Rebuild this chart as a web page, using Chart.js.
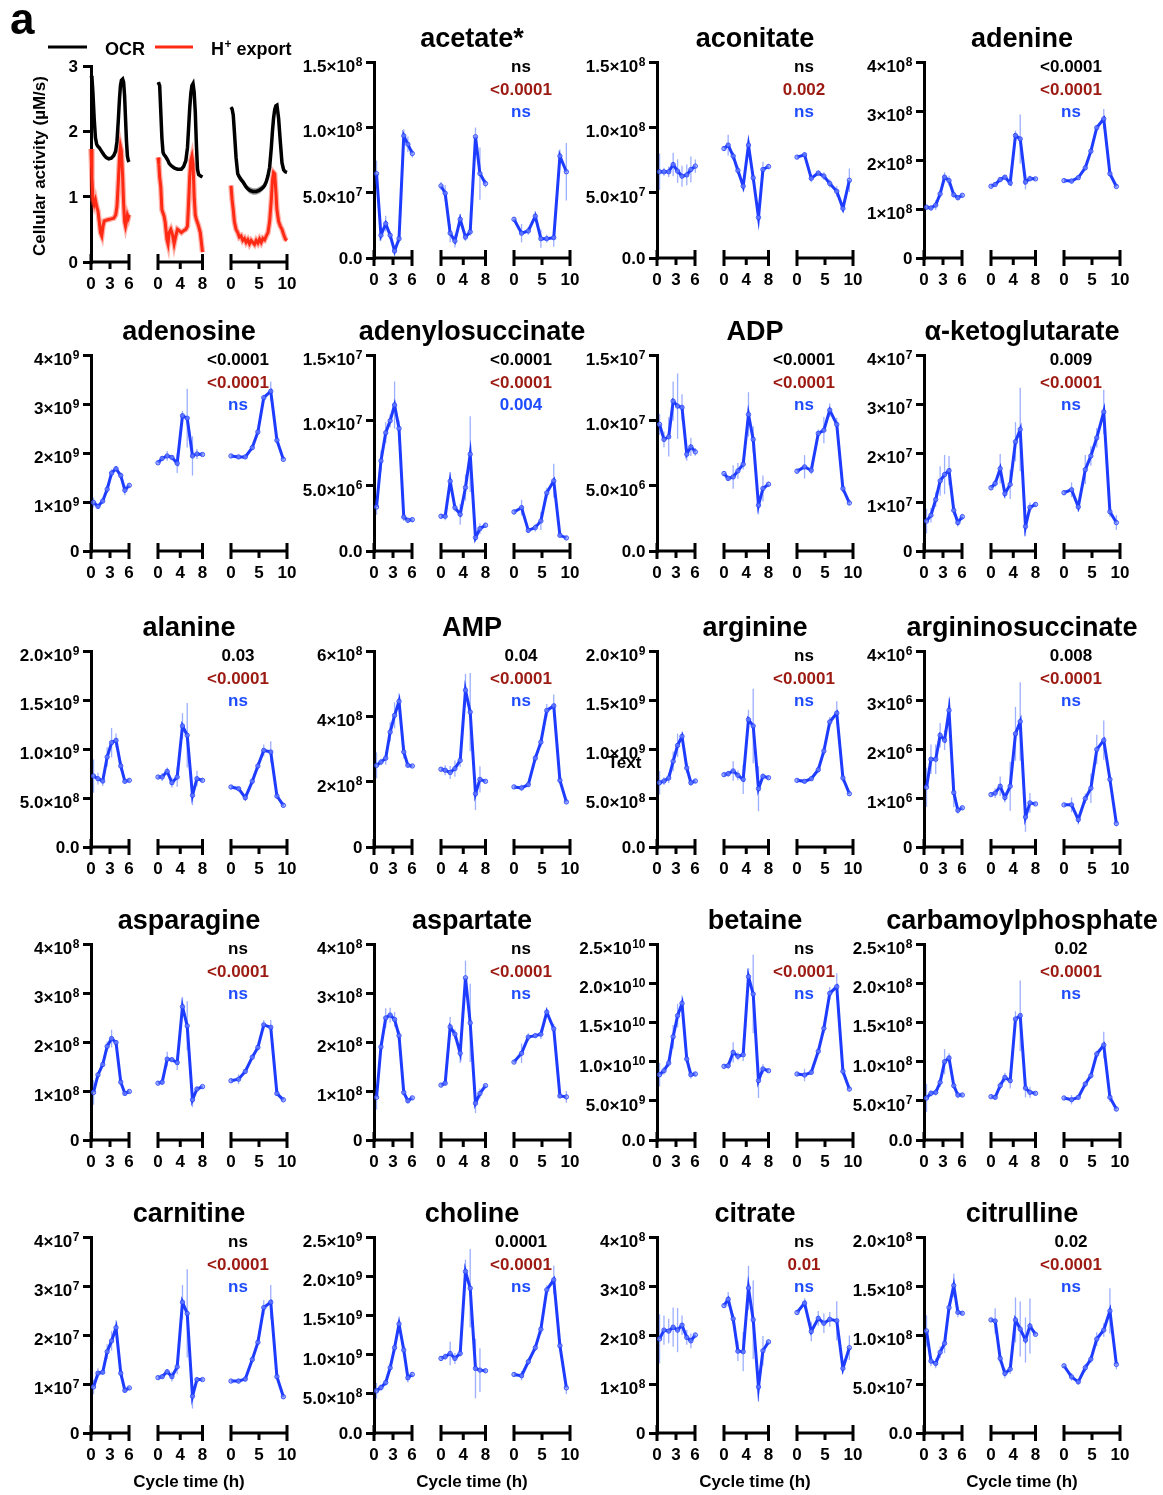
<!DOCTYPE html>
<html><head><meta charset="utf-8">
<script src="https://cdn.jsdelivr.net/npm/chart.js@4.4.1/dist/chart.umd.min.js"></script>
<style>
html,body{margin:0;padding:0;background:#fff}
#page{position:relative;width:1163px;height:1495px;overflow:hidden;background:#fff}
#page canvas{position:absolute}
</style></head><body><div id="page"></div>
<script>
// ---------- sampling times (h) of each cycle segment ----------
const T1 = [0.4, 1.1, 1.85, 2.55, 3.25, 3.95, 4.7, 5.35, 6.05];
const T2 = [0, 0.75, 1.65, 2.5, 3.45, 4.4, 5.25, 6.2, 7.0, 8.0];
const T3 = [0, 1.35, 2.55, 3.8, 4.8, 5.85, 7.1, 8.2, 9.35];
const XT1 = ['0','3','6'], XT2 = ['0','4','8'], XT3 = ['0','5','10'];

// ---------- y tick labels ----------
const YT_OCR = ['0','1','2','3'];
const YT_15e8 = ['0.0','5.0×10^7','1.0×10^8','1.5×10^8'];
const YT_4e8 = ['0','1×10^8','2×10^8','3×10^8','4×10^8'];
const YT_4e9 = ['0','1×10^9','2×10^9','3×10^9','4×10^9'];
const YT_15e7 = ['0.0','5.0×10^6','1.0×10^7','1.5×10^7'];
const YT_4e7 = ['0','1×10^7','2×10^7','3×10^7','4×10^7'];
const YT_2e9 = ['0.0','5.0×10^8','1.0×10^9','1.5×10^9','2.0×10^9'];
const YT_6e8 = ['0','2×10^8','4×10^8','6×10^8'];
const YT_4e6 = ['0','1×10^6','2×10^6','3×10^6','4×10^6'];
const YT_25e10 = ['0.0','5.0×10^9','1.0×10^10','1.5×10^10','2.0×10^10','2.5×10^10'];
const YT_25e8 = ['0.0','5.0×10^7','1.0×10^8','1.5×10^8','2.0×10^8','2.5×10^8'];
const YT_25e9 = ['0.0','5.0×10^8','1.0×10^9','1.5×10^9','2.0×10^9','2.5×10^9'];
const YT_2e8 = ['0.0','5.0×10^7','1.0×10^8','1.5×10^8','2.0×10^8'];

// ---------- OCR / H+ export (µM/s) ----------
const OCR_T1 = [0,0.15,0.3,0.5,0.7,0.9,1.1,1.3,1.5,1.7,1.9,2.1,2.4,2.8,3.2,3.6,3.9,4.1,4.3,4.5,4.65,4.8,5.0,5.15,5.3,5.45,5.6,5.75,5.9,6.0];
const OCR_K1 = [2.85,2.82,2.6,2.2,1.9,1.8,1.77,1.75,1.72,1.69,1.66,1.63,1.6,1.58,1.59,1.63,1.7,1.85,2.15,2.5,2.7,2.78,2.8,2.75,2.55,2.2,1.85,1.62,1.55,1.53];
const OCR_H1 = [1.73,1.3,0.95,0.88,0.95,0.85,0.78,0.62,0.45,0.4,0.55,0.63,0.64,0.65,0.66,0.67,0.72,0.85,1.2,1.6,1.77,1.7,1.3,0.9,0.62,0.55,0.62,0.72,0.68,0.72];
const OCR_T2 = [0,0.15,0.3,0.5,0.7,0.9,1.1,1.3,1.6,1.8,2.0,2.3,2.6,2.9,3.2,3.5,3.8,4.2,4.6,5.0,5.3,5.5,5.7,5.9,6.1,6.3,6.5,6.7,6.9,7.1,7.3,7.6,7.8,8.0];
const OCR_K2 = [2.75,2.73,2.7,2.3,1.9,1.68,1.64,1.62,1.58,1.55,1.51,1.48,1.46,1.44,1.43,1.42,1.42,1.42,1.46,1.55,1.75,2.05,2.35,2.58,2.7,2.73,2.6,2.3,1.8,1.42,1.34,1.32,1.31,1.3];
const OCR_H2 = [1.6,1.5,1.3,1.15,0.8,0.75,0.7,0.6,0.35,0.28,0.45,0.5,0.42,0.28,0.4,0.5,0.48,0.45,0.48,0.5,0.55,0.9,1.3,1.55,1.62,1.5,1.0,0.72,0.65,0.6,0.55,0.45,0.3,0.15];
const OCR_T3 = [0,0.2,0.4,0.6,0.9,1.2,1.5,1.8,2.1,2.4,2.7,3.0,3.3,3.6,3.9,4.2,4.5,4.8,5.1,5.4,5.7,6.0,6.3,6.6,6.9,7.2,7.4,7.6,7.8,8.0,8.2,8.5,8.8,9.1,9.4,9.7,10];
const OCR_K3 = [2.37,2.34,2.25,2.0,1.6,1.35,1.3,1.26,1.23,1.19,1.15,1.12,1.1,1.09,1.08,1.08,1.08,1.09,1.1,1.12,1.14,1.17,1.23,1.32,1.45,1.75,2.0,2.2,2.33,2.39,2.4,2.2,1.85,1.52,1.41,1.38,1.37];
const OCR_B3 = [0.02,0.02,0.02,0.03,0.03,0.045,0.045,0.045,0.045,0.045,0.045,0.045,0.05,0.05,0.05,0.05,0.05,0.05,0.05,0.05,0.05,0.045,0.045,0.045,0.04,0.03,0.03,0.03,0.03,0.03,0.03,0.03,0.03,0.03,0.02,0.02,0.02];
const OCR_H3 = [1.17,0.95,0.8,0.62,0.5,0.45,0.38,0.4,0.33,0.36,0.3,0.34,0.28,0.33,0.3,0.27,0.33,0.29,0.35,0.3,0.36,0.34,0.4,0.45,0.62,0.95,1.25,1.37,1.35,1.1,0.8,0.62,0.55,0.5,0.42,0.35,0.33];

// ---------- metabolites: values per segment and error bars ----------
const acetate_v = [[0.646,0.174,0.263,0.174,0.054,0.148,0.935,0.87,0.80],[0.552,0.496,0.19,0.13,0.296,0.16,0.20,0.928,0.646,0.57],[0.296,0.19,0.207,0.32,0.148,0.148,0.156,0.78,0.66]];
const acetate_e = [[0.1,0.04,0.06,0.03,0.04,0.03,0.05,0.06,0.03],[0.03,0.06,0.07,0.05,0.04,0.03,0.03,0.07,0.2,0.03],[0.02,0.07,0.03,0.04,0.07,0.03,0.07,0.05,0.22]];
const aconitate_v = [[0.66,0.66,0.66,0.715,0.665,0.626,0.636,0.677,0.703],[0.838,0.864,0.78,0.67,0.55,0.864,0.613,0.31,0.677,0.70],[0.772,0.79,0.61,0.65,0.627,0.57,0.51,0.38,0.595]];
const aconitate_e = [[0.14,0.03,0.04,0.09,0.09,0.08,0.08,0.1,0.05],[0.02,0.08,0.03,0.03,0.04,0.04,0.02,0.04,0.06,0.02],[0.01,0.02,0.03,0.02,0.03,0.03,0.04,0.03,0.09]];
const adenine_v = [[1.036,1.02,1.08,1.31,1.65,1.58,1.29,1.23,1.28],[1.465,1.5,1.6,1.65,1.53,2.5,2.43,1.55,1.62,1.615],[1.58,1.57,1.64,1.84,2.18,2.66,2.84,1.72,1.46]];
const adenine_e = [[0.05,0.05,0.1,0.08,0.1,0.1,0.05,0.05,0.03],[0.02,0.03,0.05,0.04,0.04,0.1,0.5,0.15,0.06,0.02],[0.02,0.05,0.03,0.04,0.04,0.05,0.2,0.05,0.03]];
const adenosine_v = [[0.99,0.91,1.02,1.26,1.59,1.68,1.54,1.24,1.34],[1.80,1.89,1.94,1.91,1.79,2.76,2.71,1.94,1.98,1.97],[1.94,1.92,1.92,2.11,2.43,3.13,3.26,2.26,1.87]];
const adenosine_e = [[0.1,0.05,0.05,0.07,0.08,0.05,0.06,0.1,0.04],[0.03,0.05,0.1,0.04,0.2,0.1,0.6,0.4,0.1,0.02],[0.03,0.04,0.04,0.05,0.05,0.06,0.2,0.05,0.05]];
const adenylosuccinate_v = [[3.37,6.9,9.05,9.97,11.17,9.38,2.6,2.35,2.4],[2.66,2.66,5.34,3.32,2.81,4.86,7.41,1.02,1.71,1.97],[2.99,3.32,1.58,1.79,2.3,4.45,5.37,1.2,1.0]];
const adenylosuccinate_e = [[0.6,0.8,0.8,0.5,1.8,0.6,0.3,0.2,0.2],[0.2,0.3,0.7,0.3,0.8,1.0,2.9,0.3,0.4,0.2],[0.2,0.6,0.2,0.3,0.7,0.4,1.3,0.1,0.1]];
const ADP_v = [[9.69,8.54,8.74,11.47,11.09,10.99,7.41,7.97,7.59],[5.93,5.55,5.67,6.13,6.64,10.45,8.54,3.5,4.78,5.11],[6.11,6.44,6.18,9.0,9.25,10.78,9.69,4.78,3.68]];
const ADP_e = [[0.8,0.6,1.5,1.5,2.5,1.0,0.5,0.7,0.3],[0.2,0.2,0.9,0.6,0.4,1.7,1.0,0.7,1.0,0.2],[0.2,0.9,0.3,0.3,1.0,0.5,0.5,0.3,0.2]];
const akg_v = [[0.61,0.73,1.05,1.43,1.56,1.64,0.83,0.58,0.70],[1.29,1.38,1.68,1.17,1.36,2.23,2.48,0.50,0.89,0.95],[1.19,1.25,0.90,1.66,1.94,2.31,2.84,0.80,0.58]];
const akg_e = [[0.25,0.15,0.15,0.3,0.4,0.3,0.1,0.08,0.06],[0.05,0.08,0.3,0.1,0.3,0.4,0.85,0.2,0.1,0.05],[0.05,0.15,0.1,0.3,0.2,0.2,0.45,0.1,0.15]];
const alanine_v = [[0.724,0.697,0.673,0.918,1.065,1.088,0.827,0.67,0.68],[0.714,0.714,0.772,0.656,0.714,1.235,1.14,0.527,0.697,0.68],[0.612,0.595,0.503,0.67,0.827,0.986,0.969,0.52,0.425]];
const alanine_e = [[0.17,0.06,0.05,0.1,0.15,0.07,0.05,0.02,0.02],[0.02,0.04,0.04,0.05,0.1,0.13,0.33,0.1,0.08,0.02],[0.02,0.02,0.03,0.03,0.04,0.06,0.11,0.03,0.02]];
const AMP_v = [[2.5,2.6,2.72,3.52,4.03,4.46,2.91,2.5,2.48],[2.38,2.35,2.28,2.40,2.65,4.8,4.13,1.63,2.07,2.01],[1.84,1.81,1.91,2.72,3.21,4.18,4.32,2.04,1.38]];
const AMP_e = [[0.4,0.1,0.2,0.3,0.4,0.25,0.2,0.05,0.03],[0.05,0.15,0.2,0.25,0.2,0.5,1.2,0.5,0.4,0.03],[0.03,0.1,0.05,0.1,0.15,0.2,0.35,0.05,0.05]];
const arginine_v = [[0.656,0.673,0.704,0.874,1.037,1.129,0.806,0.656,0.673],[0.738,0.748,0.776,0.731,0.690,1.30,1.235,0.595,0.721,0.707],[0.68,0.67,0.697,0.789,0.98,1.276,1.367,0.704,0.544]];
const arginine_e = [[0.12,0.04,0.05,0.1,0.12,0.05,0.05,0.03,0.02],[0.02,0.03,0.1,0.05,0.15,0.1,0.38,0.23,0.03,0.02],[0.02,0.02,0.02,0.03,0.04,0.05,0.12,0.04,0.02]];
const argsucc_v = [[1.22,1.79,1.79,2.28,2.18,2.79,1.11,0.75,0.80],[1.07,1.10,1.24,1.01,1.24,2.31,2.56,0.61,0.90,0.88],[0.86,0.86,0.56,0.99,1.20,1.99,2.18,1.38,0.48]];
const argsucc_e = [[0.4,0.3,0.3,0.25,0.2,0.25,0.3,0.07,0.03],[0.03,0.1,0.2,0.1,0.5,0.55,0.8,0.3,0.2,0.02],[0.02,0.15,0.1,0.1,0.3,0.3,0.4,0.1,0.06]];
const asparagine_v = [[0.97,1.33,1.54,1.91,2.07,1.99,1.18,0.95,0.99],[1.16,1.18,1.65,1.64,1.58,2.72,2.33,0.82,1.04,1.09],[1.21,1.24,1.40,1.69,1.89,2.35,2.30,0.95,0.82]];
const asparagine_e = [[0.25,0.05,0.05,0.1,0.18,0.05,0.04,0.03,0.02],[0.03,0.05,0.15,0.05,0.15,0.2,0.5,0.15,0.05,0.02],[0.02,0.1,0.05,0.05,0.07,0.1,0.15,0.05,0.03]];
const aspartate_v = [[0.87,1.90,2.49,2.55,2.46,2.13,0.97,0.80,0.86],[1.12,1.16,2.31,2.16,1.77,3.31,2.39,0.75,0.95,1.11],[1.59,1.77,2.10,2.13,2.16,2.61,2.27,0.90,0.88]];
const aspartate_e = [[0.25,0.1,0.2,0.15,0.15,0.1,0.05,0.05,0.03],[0.03,0.05,0.2,0.1,0.2,0.35,0.8,0.2,0.1,0.03],[0.02,0.2,0.08,0.05,0.1,0.1,0.1,0.05,0.12]];
const betaine_v = [[8.33,8.84,9.82,13.18,15.86,17.43,10.33,8.33,8.42],[9.40,9.48,11.18,10.67,10.88,20.83,18.62,7.57,9.06,8.84],[8.42,8.29,8.63,11.31,14.24,18.71,19.56,8.76,6.5]];
const betaine_e = [[1.5,0.5,0.5,1.5,1.5,1.0,0.5,0.5,0.3],[0.3,0.4,1.3,0.5,0.8,1.1,5.0,2.2,0.6,0.2],[0.2,0.8,0.3,0.4,0.6,0.8,1.7,0.5,0.3]];
const carbp_v = [[5.36,5.95,6.08,7.36,9.99,10.46,6.93,5.74,5.74],[5.53,5.44,6.93,7.99,7.57,15.43,15.86,6.63,6.08,5.95],[5.36,5.14,5.44,7.14,8.21,10.97,12.12,5.44,3.95]];
const carbp_e = [[1.8,0.4,0.4,0.6,1.6,0.6,0.4,0.4,0.2],[0.2,0.3,0.5,0.6,1.0,1.0,4.5,1.2,0.7,0.2],[0.2,0.6,0.3,0.3,0.4,0.4,1.7,0.6,0.3]];
const carnitine_v = [[0.94,1.22,1.24,1.66,1.88,2.15,1.22,0.87,0.92],[1.13,1.15,1.25,1.15,1.35,2.67,2.44,0.75,1.09,1.09],[1.06,1.06,1.10,1.50,1.85,2.56,2.67,1.15,0.74]];
const carnitine_e = [[0.15,0.1,0.05,0.15,0.2,0.15,0.05,0.04,0.02],[0.03,0.04,0.05,0.1,0.15,0.35,0.9,0.25,0.05,0.02],[0.02,0.05,0.05,0.05,0.05,0.15,0.35,0.05,0.04]];
const choline_v = [[5.38,5.80,6.44,8.32,10.88,13.91,10.58,7.04,7.47],[9.51,9.73,10.15,9.51,10.15,20.6,18.47,8.23,8.02,7.94],[7.47,7.30,9.09,10.88,13.23,18.26,19.54,11.13,5.76]];
const choline_e = [[1.0,0.4,0.4,0.5,0.6,0.5,0.5,0.6,0.3],[0.3,0.4,1.5,0.7,0.4,1.5,5.0,3.8,2.8,0.2],[0.2,0.6,0.4,0.4,0.6,0.6,1.8,0.5,0.8]];
const citrate_v = [[1.92,2.10,2.08,2.16,2.10,2.20,1.95,1.88,2.0],[2.60,2.73,2.33,1.67,1.66,2.96,2.31,0.94,1.68,1.86],[2.46,2.65,2.07,2.34,2.24,2.32,2.29,1.32,1.74]];
const citrate_e = [[0.5,0.3,0.25,0.4,0.45,0.2,0.15,0.15,0.05],[0.05,0.15,0.1,0.2,0.4,0.45,0.8,0.3,0.3,0.05],[0.05,0.1,0.2,0.15,0.2,0.15,0.4,0.1,0.25]];
const citrulline_v = [[10.41,7.34,7.10,8.23,9.15,12.8,15.05,12.32,12.22],[11.54,11.43,7.61,6.08,6.52,11.54,10.61,9.49,10.92,10.07],[6.86,5.73,5.22,6.66,7.54,9.59,10.51,12.46,7.0]];
const citrulline_e = [[1.6,0.5,0.5,0.6,1.0,0.5,1.2,0.5,0.2],[0.2,1.3,0.5,0.5,0.5,2.3,2.8,2.3,2.8,0.2],[0.2,0.4,0.3,0.4,0.4,0.7,0.7,2.3,0.5]];

// ---------- p-values (black / red / blue) ----------
const P_acetate = ['ns','<0.0001','ns'];
const P_aconitate = ['ns','0.002','ns'];
const P_adenine = ['<0.0001','<0.0001','ns'];
const P_adenosine = ['<0.0001','<0.0001','ns'];
const P_adenylosuccinate = ['<0.0001','<0.0001','0.004'];
const P_ADP = ['<0.0001','<0.0001','ns'];
const P_akg = ['0.009','<0.0001','ns'];
const P_alanine = ['0.03','<0.0001','ns'];
const P_AMP = ['0.04','<0.0001','ns'];
const P_arginine = ['ns','<0.0001','ns'];
const P_argsucc = ['0.008','<0.0001','ns'];
const P_asparagine = ['ns','<0.0001','ns'];
const P_aspartate = ['ns','<0.0001','ns'];
const P_betaine = ['ns','<0.0001','ns'];
const P_carbp = ['0.02','<0.0001','ns'];
const P_carnitine = ['ns','<0.0001','ns'];
const P_choline = ['0.0001','<0.0001','ns'];
const P_citrate = ['ns','0.01','ns'];
const P_citrulline = ['0.02','<0.0001','ns'];

// ---------- layout / style ----------
const FONT = '"Liberation Sans", Arial, Helvetica, sans-serif';
const BLUE = '#1e3cff', BLUE_TXT = '#1f4cff', DRED = '#9c1a12', RED = '#ff2a14';
const COLS = [91, 374, 657, 924];
const ROWS = [61.5, 355, 650.5, 943.5, 1237];
const SEG = [{start:0,width:38,max:6,labels:XT1},{start:67,width:44.5,max:8,labels:XT2},{start:140,width:56,max:10,labels:XT3}];
const TS = [T1, T2, T3];
const segX = (s, t) => SEG[s].start + t / SEG[s].max * SEG[s].width;

Chart.defaults.font.family = FONT;
Chart.defaults.color = '#000';

function richText(ctx, parts, x, y, size, align, weight) {
  const w8 = weight || 'bold';
  let w = 0;
  parts.forEach(p => { ctx.font = `${w8} ${p.sup ? 12 : size}px ${FONT}`; p.w = ctx.measureText(p.t).width + (p.sup ? 0.5 : 0); w += p.w; });
  let cx = align === 'right' ? x - w : (align === 'center' ? x - w / 2 : x);
  ctx.textAlign = 'left'; ctx.textBaseline = 'alphabetic';
  parts.forEach(p => { ctx.font = `${w8} ${p.sup ? 12 : size}px ${FONT}`; ctx.fillText(p.t, cx + (p.sup ? 0.5 : 0), p.sup ? y - 6.5 : y); cx += p.w; });
}
function yLabel(ctx, lab, xr, yc) {
  const k = lab.split('^');
  if (k.length > 1) richText(ctx, [{t:k[0]}, {t:k[1], sup:true}], xr, yc + 10, 17, 'right');
  else richText(ctx, [{t:k[0]}], xr, yc + 6, 17, 'right');
}

const errPlugin = {
  id: 'errbars',
  beforeDatasetsDraw(chart) {
    const ctx = chart.ctx, ys = chart.scales.y;
    chart.data.datasets.forEach((ds, di) => {
      if (!ds.errs) return;
      const meta = chart.getDatasetMeta(di);
      ctx.save(); ctx.strokeStyle = 'rgba(60,95,255,0.5)'; ctx.lineWidth = 1.3;
      meta.data.forEach((pt, i) => {
        const v = ds.data[i].y, e = ds.errs[i];
        ctx.beginPath(); ctx.moveTo(pt.x, ys.getPixelForValue(v - e)); ctx.lineTo(pt.x, ys.getPixelForValue(v + e)); ctx.stroke();
      });
      ctx.restore();
    });
  }
};

const decorPlugin = {
  id: 'decor',
  afterDraw(chart) {
    const o = chart.options.plugins.decor, ctx = chart.ctx, ca = chart.chartArea;
    const xs = chart.scales.x, ys = chart.scales.y;
    ctx.save();
    ctx.fillStyle = '#000'; ctx.strokeStyle = '#000'; ctx.lineWidth = 3; ctx.lineCap = 'butt';
    const y0 = ys.getPixelForValue(0);
    SEG.forEach(sg => {
      const x0 = xs.getPixelForValue(sg.start), x1 = xs.getPixelForValue(sg.start + sg.width);
      const xm = xs.getPixelForValue(sg.start + sg.width / 2);
      ctx.beginPath();
      ctx.moveTo(x0 - 1.5, y0); ctx.lineTo(x1 + 1.5, y0);
      ctx.moveTo(x0, y0 - 8); ctx.lineTo(x0, y0 + 8);
      ctx.moveTo(x1, y0 - 8); ctx.lineTo(x1, y0 + 8);
      ctx.moveTo(xm, y0); ctx.lineTo(xm, y0 + 7);
      ctx.stroke();
    });
    ys.ticks.forEach((t, i) => yLabel(ctx, o.yLabels[i], ca.left - (o.ocr ? 13 : 11.5), ys.getPixelForValue(t.value)));
    if (o.title) {
      ctx.font = `bold 27px ${FONT}`; ctx.textAlign = 'center'; ctx.textBaseline = 'middle';
      ctx.fillText(o.title, ca.left + 98, ca.top - 22);
    }
    if (o.p) {
      const cols = ['#000', DRED, BLUE_TXT], dy = [3.5, 26.5, 48.5];
      o.p.forEach((s, i) => {
        ctx.fillStyle = cols[i];
        richText(ctx, [{t:s}], ca.left + 147, ca.top + dy[i] + 6, 17, 'center', 'bold');
      });
      ctx.fillStyle = '#000';
    }
    (o.extras || []).forEach(ex => {
      ctx.fillStyle = ex.color || '#000';
      if (ex.kind === 'text') richText(ctx, ex.parts, ca.left + ex.dx, ca.top + ex.dy, ex.size, ex.align || 'left');
      if (ex.kind === 'big') { ctx.font = `bold ${ex.size}px ${FONT}`; ctx.textAlign = 'left'; ctx.textBaseline = 'alphabetic'; ctx.fillText(ex.t, ca.left + ex.dx, ca.top + ex.dy); }
      if (ex.kind === 'rot') { ctx.save(); ctx.translate(ca.left + ex.dx, ca.top + ex.dy); ctx.rotate(-Math.PI / 2); ctx.font = `bold ${ex.size}px ${FONT}`; ctx.textAlign = 'center'; ctx.textBaseline = 'middle'; ctx.fillText(ex.t, 0, 0); ctx.restore(); }
      if (ex.kind === 'line') { ctx.strokeStyle = ex.color; ctx.lineWidth = 3; ctx.beginPath(); ctx.moveTo(ca.left + ex.dx0, ca.top + ex.dy); ctx.lineTo(ca.left + ex.dx1, ca.top + ex.dy); ctx.stroke(); }
    });
    ctx.restore();
  }
};

const page = document.getElementById('page');

function metaboliteSets(v, e) {
  return [0, 1, 2].map(s => ({
    data: v[s].map((y, i) => ({x: segX(s, TS[s][i]), y})),
    errs: e[s], showLine: true, borderColor: BLUE, borderWidth: 3, tension: 0,
    pointRadius: 2.2, pointBorderWidth: 0.8, pointBorderColor: BLUE, pointBackgroundColor: 'rgba(130,150,255,0.6)',
    clip: false, order: 1
  }));
}
function ocrSets() {
  const sets = [];
  sets.push({data: OCR_T3.map((t, i) => ({x: segX(2, t), y: OCR_K3[i] + OCR_B3[i]})), showLine: true, borderWidth: 0, pointRadius: 0, fill: '+1', backgroundColor: 'rgba(110,110,110,0.7)', order: 6, clip: false});
  sets.push({data: OCR_T3.map((t, i) => ({x: segX(2, t), y: OCR_K3[i] - OCR_B3[i]})), showLine: true, borderWidth: 0, pointRadius: 0, fill: false, order: 6, clip: false});
  const H = [[OCR_T1, OCR_H1], [OCR_T2, OCR_H2], [OCR_T3, OCR_H3]];
  const K = [[OCR_T1, OCR_K1], [OCR_T2, OCR_K2], [OCR_T3, OCR_K3]];
  H.forEach(([t, v], s) => {
    sets.push({data: t.map((x, i) => ({x: segX(s, x), y: v[i]})), showLine: true, borderColor: 'rgba(255,60,40,0.4)', borderWidth: 5.5, pointRadius: 0, tension: 0, order: 4, clip: false});
    sets.push({data: t.map((x, i) => ({x: segX(s, x), y: v[i]})), showLine: true, borderColor: RED, borderWidth: 3, pointRadius: 0, tension: 0, order: 3, clip: false});
  });
  K.forEach(([t, v], s) => {
    sets.push({data: t.map((x, i) => ({x: segX(s, x), y: v[i]})), showLine: true, borderColor: '#000', borderWidth: 3.5, pointRadius: 0, tension: 0, order: 1, clip: false});
  });
  return sets;
}

function buildPanel(P) {
  const axisX = COLS[P.col];
  const top = P.top !== undefined ? P.top : ROWS[P.row];
  const PADT = 60, W = 330, PLOT = 196;
  const xH = P.row === 4 ? 64 : 46;
  const H = PADT + PLOT + xH;
  const cv = document.createElement('canvas');
  cv.width = W; cv.height = H;
  Object.assign(cv.style, {left: (axisX - 90) + 'px', top: (top - PADT) + 'px', width: W + 'px', height: H + 'px'});
  page.appendChild(cv);
  const n = P.yLabels.length;
  const xTickVals = [], xTickLabs = [];
  SEG.forEach(sg => sg.labels.forEach((l, i) => { xTickVals.push(sg.start + sg.width * i / (sg.labels.length - 1)); xTickLabs.push(l); }));
  new Chart(cv, {
    type: 'scatter',
    data: {datasets: P.ocr ? ocrSets() : metaboliteSets(P.v, P.e)},
    options: {
      responsive: false, animation: false, devicePixelRatio: 1,
      layout: {padding: {top: PADT, right: W - 90 - PLOT, left: 0, bottom: 0}},
      plugins: {legend: {display: false}, tooltip: {enabled: false},
        decor: {yLabels: P.yLabels, title: P.title, p: P.p, extras: P.extras, ocr: P.ocr}},
      scales: {
        x: {
          type: 'linear', min: 0, max: PLOT,
          afterBuildTicks: s => { s.ticks = xTickVals.map(v => ({value: v})); },
          afterFit: s => { s.height = xH; },
          grid: {display: false, drawTicks: false}, border: {display: false},
          ticks: {autoSkip: false, maxRotation: 0, minRotation: 0, padding: 12, color: '#000',
            font: {size: 17, weight: 'bold'}, callback: (v, i) => xTickLabs[i]},
          title: {display: P.row === 4, text: 'Cycle time (h)', color: '#000', font: {size: 17, weight: 'bold'}, padding: {top: 0, bottom: 4}}
        },
        y: {
          type: 'linear', min: 0, max: P.yMax,
          afterBuildTicks: s => { s.ticks = P.yLabels.map((_, i) => ({value: P.yMax * i / (n - 1)})); },
          afterFit: s => { s.width = 90; },
          ticks: {display: false},
          grid: {display: true, drawOnChartArea: false, drawTicks: true, tickLength: 8, tickWidth: 3, tickColor: '#000', color: '#000', lineWidth: 3},
          border: {display: true, width: 3, color: '#000'}
        }
      }
    },
    plugins: [errPlugin, decorPlugin]
  });
}

const PANELS = [
  {ocr: true, row: 0, col: 0, top: 65.7, yMax: 3, yLabels: YT_OCR,
    extras: [
      {kind: 'big', t: 'a', size: 44, dx: -81, dy: -32.5},
      {kind: 'line', color: '#000', dx0: -43, dx1: -4, dy: -19},
      {kind: 'text', parts: [{t: 'OCR'}], size: 18, dx: 14, dy: -11.5},
      {kind: 'line', color: RED, dx0: 64, dx1: 102, dy: -19},
      {kind: 'text', parts: [{t: 'H'}, {t: '+', sup: true}, {t: ' export'}], size: 18, dx: 120, dy: -11.5},
      {kind: 'rot', t: 'Cellular activity (µM/s)', size: 17, dx: -50.5, dy: 100}
    ]},
  {title: 'acetate*', row: 0, col: 1, yMax: 1.5, yLabels: YT_15e8, v: acetate_v, e: acetate_e, p: P_acetate},
  {title: 'aconitate', row: 0, col: 2, yMax: 1.5, yLabels: YT_15e8, v: aconitate_v, e: aconitate_e, p: P_aconitate},
  {title: 'adenine', row: 0, col: 3, yMax: 4, yLabels: YT_4e8, v: adenine_v, e: adenine_e, p: P_adenine},
  {title: 'adenosine', row: 1, col: 0, yMax: 4, yLabels: YT_4e9, v: adenosine_v, e: adenosine_e, p: P_adenosine},
  {title: 'adenylosuccinate', row: 1, col: 1, yMax: 15, yLabels: YT_15e7, v: adenylosuccinate_v, e: adenylosuccinate_e, p: P_adenylosuccinate},
  {title: 'ADP', row: 1, col: 2, yMax: 15, yLabels: YT_15e7, v: ADP_v, e: ADP_e, p: P_ADP},
  {title: 'α-ketoglutarate', row: 1, col: 3, yMax: 4, yLabels: YT_4e7, v: akg_v, e: akg_e, p: P_akg},
  {title: 'alanine', row: 2, col: 0, yMax: 2, yLabels: YT_2e9, v: alanine_v, e: alanine_e, p: P_alanine},
  {title: 'AMP', row: 2, col: 1, yMax: 6, yLabels: YT_6e8, v: AMP_v, e: AMP_e, p: P_AMP},
  {title: 'arginine', row: 2, col: 2, yMax: 2, yLabels: YT_2e9, v: arginine_v, e: arginine_e, p: P_arginine,
    extras: [{kind: 'text', parts: [{t: 'Text'}], size: 17, dx: -32.5, dy: 117, align: 'center'}]},
  {title: 'argininosuccinate', row: 2, col: 3, yMax: 4, yLabels: YT_4e6, v: argsucc_v, e: argsucc_e, p: P_argsucc},
  {title: 'asparagine', row: 3, col: 0, yMax: 4, yLabels: YT_4e8, v: asparagine_v, e: asparagine_e, p: P_asparagine},
  {title: 'aspartate', row: 3, col: 1, yMax: 4, yLabels: YT_4e8, v: aspartate_v, e: aspartate_e, p: P_aspartate},
  {title: 'betaine', row: 3, col: 2, yMax: 25, yLabels: YT_25e10, v: betaine_v, e: betaine_e, p: P_betaine},
  {title: 'carbamoylphosphate', row: 3, col: 3, yMax: 25, yLabels: YT_25e8, v: carbp_v, e: carbp_e, p: P_carbp},
  {title: 'carnitine', row: 4, col: 0, yMax: 4, yLabels: YT_4e7, v: carnitine_v, e: carnitine_e, p: P_carnitine},
  {title: 'choline', row: 4, col: 1, yMax: 25, yLabels: YT_25e9, v: choline_v, e: choline_e, p: P_choline},
  {title: 'citrate', row: 4, col: 2, yMax: 4, yLabels: YT_4e8, v: citrate_v, e: citrate_e, p: P_citrate},
  {title: 'citrulline', row: 4, col: 3, yMax: 20, yLabels: YT_2e8, v: citrulline_v, e: citrulline_e, p: P_citrulline}
];
PANELS.forEach(buildPanel);
</script>
</body></html>
